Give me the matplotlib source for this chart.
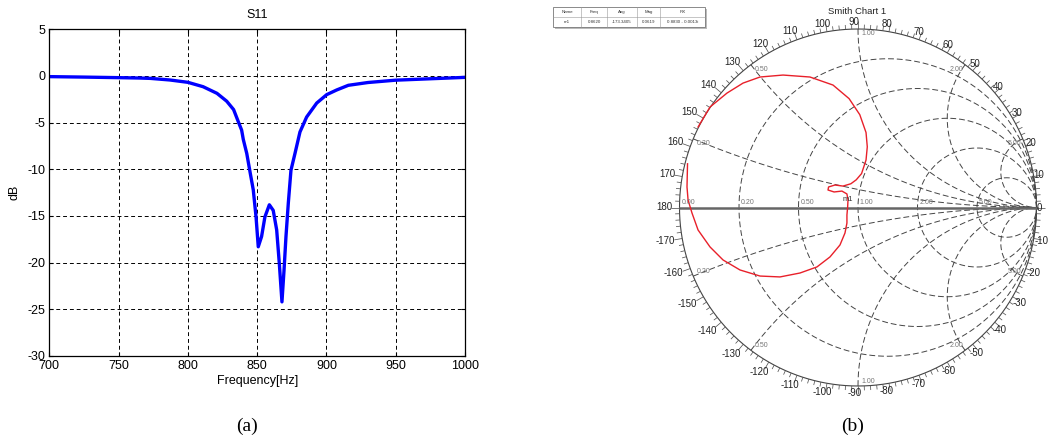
import numpy as np
import matplotlib.pyplot as plt
from matplotlib.collections import LineCollection

plt.rcParams['font.family'] = ['Liberation Sans', 'DejaVu Sans']
plt.rcParams['axes.unicode_minus'] = False

# (a) S11 magnitude
freq = [700, 725, 750, 765, 773, 787, 800, 811, 821, 828, 833, 836.4, 838.8, 840,
        842.5, 845, 847.2, 849.2, 850.8, 853.2, 855.6, 858.8, 861.6, 864.1, 866,
        867.9, 869.4, 870.8, 872.5, 874.4, 877.3, 880.9, 885.7, 893, 900.2, 907.4,
        915.8, 930, 950, 975, 1000]
s11_db = [-0.07, -0.12, -0.18, -0.22, -0.26, -0.43, -0.68, -1.15, -1.86, -2.7, -3.6,
          -4.9, -5.8, -6.8, -8.3, -10.4, -12.2, -15.1, -18.3, -17.2, -15.1, -13.8,
          -14.4, -16.5, -20.1, -24.2, -20.8, -17.2, -13.6, -10.1, -8.3, -6.0, -4.4,
          -2.9, -2.0, -1.5, -1.0, -0.7, -0.45, -0.3, -0.15]

# (b) reflection coefficient trace on the Smith chart
gamma_re = [-0.896, -0.829, -0.734, -0.644, -0.549, -0.420, -0.269, -0.140, -0.050,
            0.010, 0.045, 0.052, 0.045, 0.020, -0.010, -0.040, -0.084, -0.129, -0.165,
            -0.168, -0.134, -0.090, -0.062, -0.056, -0.058, -0.062, -0.062, -0.073,
            -0.101, -0.157, -0.230, -0.325, -0.437, -0.549, -0.661, -0.756, -0.829,
            -0.896, -0.930, -0.952, -0.958, -0.955]
gamma_im = [0.451, 0.563, 0.641, 0.697, 0.731, 0.742, 0.731, 0.686, 0.610, 0.520,
            0.420, 0.340, 0.266, 0.190, 0.155, 0.133, 0.120, 0.126, 0.115, 0.098,
            0.087, 0.092, 0.076, 0.042, 0.003, -0.042, -0.087, -0.143, -0.210,
            -0.277, -0.333, -0.367, -0.389, -0.384, -0.350, -0.294, -0.221, -0.126,
            -0.031, 0.042, 0.115, 0.245]

r_circles = [0.2, 0.5, 1.0, 2.0, 5.0]
x_arcs = [0.2, 0.5, 1.0, 2.0, 5.0]
angle_labels = list(range(-170, 190, 10))
marker_cols = ['Name', 'Freq', 'Ang', 'Mag', 'RX']
marker_vals = ['m1', '0.8620', '-173.3405', '0.0619', '0.8830 - 0.0013i']

W, H = 1050, 441
fig = plt.figure(figsize=(W / 100, H / 100), dpi=100)

# ---- left panel ----
ax1 = fig.add_axes([49.3 / W, 1 - 356 / H, (465 - 49.3) / W, (356 - 29.3) / H])
ax1.plot(freq, s11_db, color='#0000ff', lw=2.4)
ax1.set_xlim(700, 1000)
ax1.set_ylim(-30, 5)
ax1.set_xticks(np.arange(700, 1001, 50))
ax1.set_yticks(np.arange(-30, 6, 5))
ax1.grid(True, ls=(0, (4, 3)), color='black', lw=0.7)
ax1.tick_params(direction='in', length=3, labelsize=9, top=True, right=True, pad=3)
ax1.set_title('S11', fontsize=9, pad=8)
ax1.set_xlabel('Frequency[Hz]', fontsize=9, labelpad=2)
ax1.set_ylabel('dB', fontsize=9, labelpad=5)
for s in ax1.spines.values():
    s.set_linewidth(0.9)

# ---- right panel: Smith chart ----
cx, cy, R = 858.0, 207.5, 178.5
ax2 = fig.add_axes([540 / W, 0, 510 / W, 1])
ax2.set_xlim((540 - cx) / R, (1050 - cx) / R)
ax2.set_ylim((cy - H) / R, cy / R)
ax2.axis('off')

grid_kw = dict(color='#444444', lw=0.7, ls=(0, (6, 3)))
t = np.linspace(0, 2 * np.pi, 721)
ax2.plot(np.cos(t), np.sin(t), color='#444444', lw=0.8)
for r in r_circles:
    c, rad = r / (1 + r), 1 / (1 + r)
    ax2.plot(c + rad * np.cos(t), rad * np.sin(t), **grid_kw)
rr = np.concatenate([[0], np.logspace(-3, 4, 800)])
for x in x_arcs:
    for sgn in (1, -1):
        g = (rr + 1j * sgn * x - 1) / (rr + 1j * sgn * x + 1)
        ax2.plot(g.real, g.imag, **grid_kw)
ax2.plot([-1, 1], [0, 0], color='#666666', lw=1.8)

# rim ticks
segs = []
for a in range(0, 360, 2):
    th = np.deg2rad(a)
    L = 0.045 if a % 10 == 0 else 0.025
    segs.append([(np.cos(th), np.sin(th)), ((1 + L) * np.cos(th), (1 + L) * np.sin(th))])
ax2.add_collection(LineCollection(segs, colors='#555555', lw=0.55))

# angle labels (label ring sits a touch left of the chart centre)
for a in angle_labels:
    th = np.deg2rad(a)
    lab = str(a)
    w, h = 5.0 * len(lab) / R, 7.0 / R
    rc = 1.02 + 0.5 * (w * abs(np.cos(th)) + h * abs(np.sin(th)))
    ax2.text(rc * np.cos(th) - 0.02, rc * np.sin(th), lab, fontsize=7, color='#222222',
             ha='center', va='center')

# reactance labels at rim, resistance labels on the real axis
for x in x_arcs:
    for sgn in (1, -1):
        g = (1j * sgn * x - 1) / (1j * sgn * x + 1)
        ha = 'left' if g.real <= 0.01 else 'right'
        ax2.text(g.real + (0.02 if ha == 'left' else -0.01), g.imag - sgn * 0.025,
                 '%.2f' % x, fontsize=5, color='#777777', ha=ha, va='center')
ax2.text(-0.99, 0.01, '0.00', fontsize=5, color='#777777', ha='left', va='bottom')
for r in r_circles:
    ax2.text((r - 1) / (r + 1) + 0.01, 0.01, '%.2f' % r, fontsize=5, color='#777777',
             ha='left', va='bottom')

ax2.plot(gamma_re, gamma_im, color='#e8202a', lw=1.0)
ax2.text(-0.084, 0.045, 'm1', fontsize=5.5, color='#333333', ha='left', va='center')

fig.text(857 / W, 1 - 12 / H, 'Smith Chart 1', fontsize=6.8, color='#222222',
         ha='center', va='center')

# marker table
axt = fig.add_axes([550 / W, 1 - 31 / H, 160 / W, 26 / H])
axt.set_xlim(550, 710)
axt.set_ylim(31, 5)
axt.axis('off')
edges = [553, 581, 607, 637, 660, 705]
axt.add_patch(plt.Rectangle((555, 9), 152, 20, color='#bbbbbb', lw=0))
axt.add_patch(plt.Rectangle((553, 7), 152, 20, facecolor='white', edgecolor='#777777', lw=0.6))
axt.plot([553, 705], [17, 17], color='#999999', lw=0.4)
for e in edges[1:-1]:
    axt.plot([e, e], [7, 27], color='#999999', lw=0.4)
for i in range(5):
    xm = (edges[i] + edges[i + 1]) / 2
    axt.text(xm, 12, marker_cols[i], fontsize=3.2, ha='center', va='center', color='#333333')
    axt.text(xm, 22, marker_vals[i], fontsize=3.2, ha='center', va='center', color='#333333')

fig.text(247 / W, 1 - 426 / H, '(a)', fontsize=14, family='Liberation Serif',
         ha='center', va='center')
fig.text(853 / W, 1 - 426 / H, '(b)', fontsize=14, family='Liberation Serif',
         ha='center', va='center')

fig.savefig('out.png', dpi=100)
